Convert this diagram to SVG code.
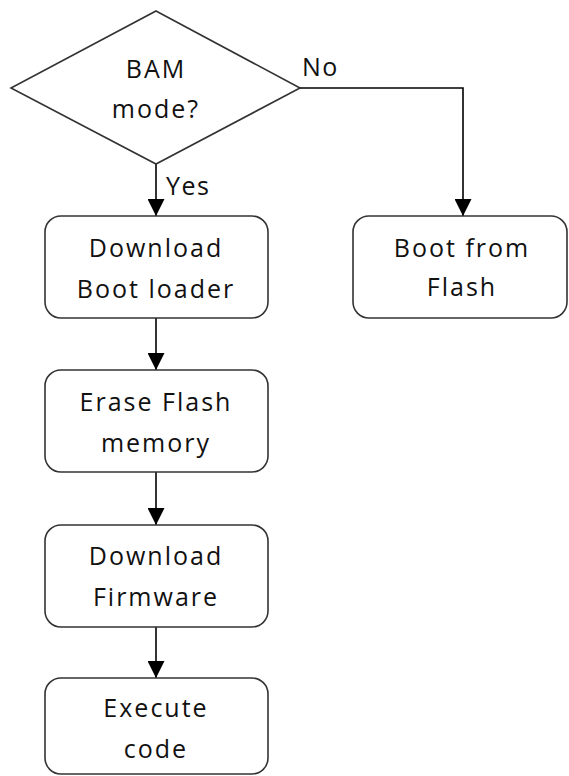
<svg xmlns="http://www.w3.org/2000/svg" width="569" height="776" viewBox="0 0 569 776">
<style>
.shape{fill:#fff;stroke:#333;stroke-width:1.6}
.t{font-family:"Open Sans","Liberation Sans",sans-serif;font-size:25px;fill:#111;text-anchor:middle;letter-spacing:2px}
.lbl{font-family:"Open Sans","Liberation Sans",sans-serif;font-size:25px;fill:#111;letter-spacing:1.5px}
.c{fill:none;stroke:#000;stroke-width:1.6}
</style>
<defs>
<marker id="ah" markerWidth="17" markerHeight="17" viewBox="0 0 17 17" refX="17" refY="8.5" orient="auto" markerUnits="userSpaceOnUse">
<path d="M0,0 L17,8.5 L0,17 Z" fill="#000"/>
</marker>
</defs>
<rect width="569" height="776" fill="#fff"/>
<g id="connectors">
<path class="c" d="M156,164 V216" marker-end="url(#ah)"/>
<path class="c" d="M300,88 H463 V216" marker-end="url(#ah)"/>
<path class="c" d="M156,318 V370" marker-end="url(#ah)"/>
<path class="c" d="M156,472 V525" marker-end="url(#ah)"/>
<path class="c" d="M156,627 V678" marker-end="url(#ah)"/>
<text class="lbl" x="302" y="76">No</text>
<text class="lbl" x="166" y="195">Yes</text>
</g>
<g id="decision">
<polygon class="shape" points="156,11 300,88 156,164 11,88"/>
<text class="t" x="156" y="78">BAM</text>
<text class="t" x="156" y="118">mode?</text>
</g>
<g id="download-boot-loader">
<rect class="shape" x="45" y="216" width="223" height="102" rx="16"/>
<text class="t" x="156" y="257">Download</text>
<text class="t" x="156" y="298">Boot loader</text>
</g>
<g id="boot-from-flash">
<rect class="shape" x="353" y="216" width="214" height="102" rx="16"/>
<text class="t" x="462" y="257">Boot from</text>
<text class="t" x="462" y="296">Flash</text>
</g>
<g id="erase-flash">
<rect class="shape" x="45" y="370" width="223" height="102" rx="16"/>
<text class="t" x="156" y="411">Erase Flash</text>
<text class="t" x="156" y="452">memory</text>
</g>
<g id="download-firmware">
<rect class="shape" x="45" y="525" width="223" height="102" rx="16"/>
<text class="t" x="156" y="565">Download</text>
<text class="t" x="156" y="606">Firmware</text>
</g>
<g id="execute-code">
<rect class="shape" x="45" y="678" width="223" height="96" rx="16"/>
<text class="t" x="156" y="717">Execute</text>
<text class="t" x="156" y="758">code</text>
</g>
</svg>
